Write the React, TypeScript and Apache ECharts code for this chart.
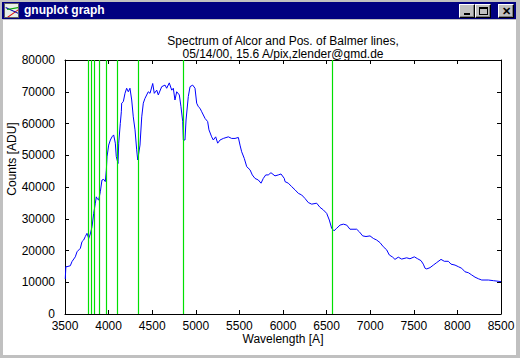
import React, { useEffect, useRef } from "react";
import * as echarts from "echarts";

const wavelengths = [
  3503, 3510, 3523, 3561, 3580, 3618, 3638, 3676, 3695, 3714, 3733, 3752, 3772, 3790, 3810, 3829,
  3848, 3859, 3867, 3886, 3905, 3924, 3944, 3962, 3974, 3982, 4001, 4020, 4039, 4058, 4077, 4088,
  4108, 4116, 4134, 4146, 4150, 4169, 4188, 4207, 4226, 4245, 4265, 4283, 4303, 4322, 4334, 4360,
  4380, 4398, 4417, 4455, 4475, 4506, 4524, 4552, 4570, 4609, 4647, 4666, 4696, 4724, 4742, 4761,
  4781, 4811, 4830, 4850, 4857, 4876, 4888, 4914, 4934, 4964, 4991, 5010, 5029, 5048, 5068, 5106,
  5136, 5151, 5182, 5201, 5228, 5251, 5278, 5316, 5373, 5411, 5450, 5488, 5507, 5526, 5556, 5584,
  5622, 5648, 5679, 5717, 5748, 5774, 5802, 5831, 5862, 5908, 5946, 5977, 6015, 6023, 6061, 6100,
  6138, 6176, 6214, 6252, 6290, 6329, 6386, 6424, 6462, 6501, 6531, 6558, 6585, 6616, 6654, 6692,
  6731, 6768, 6845, 6875, 6914, 6952, 6998, 7036, 7074, 7112, 7150, 7189, 7219, 7258, 7284, 7322,
  7361, 7418, 7456, 7506, 7544, 7583, 7609, 7629, 7648, 7686, 7724, 7763, 7812, 7850, 7896, 7927,
  7973, 8011, 8049, 8087, 8126, 8164, 8202, 8241, 8279, 8355, 8413, 8500
];

const counts = [
  11000, 14900, 14900, 15200, 16500, 18000, 19600, 20700, 22800, 23300, 24400, 25400, 23800, 25200, 27500, 31700,
  34900, 36900, 36400, 35900, 38500, 42200, 42400, 41700, 45300, 49500, 53200, 54800, 55800, 56400, 53800, 49600,
  47400, 53800, 60000, 63700, 66400, 66900, 69500, 71100, 70000, 71100, 67400, 62100, 58000, 51700, 48500, 53200,
  62100, 66400, 67900, 70000, 69500, 72600, 69500, 70500, 69000, 71600, 72100, 71100, 72800, 70500, 71100, 67400,
  70000, 69000, 65300, 60600, 54800, 54800, 61100, 68500, 71600, 72100, 71100, 66400, 65300, 64800, 63700, 61600,
  60600, 58000, 55800, 54800, 55800, 53800, 54800, 55300, 55800, 55300, 55300, 55600, 53200, 51100, 49000, 46400,
  45400, 43800, 42700, 42200, 41200, 42700, 43800, 43800, 44500, 43500, 43800, 44100, 42700, 41700, 41200, 40100,
  39100, 38000, 37500, 36400, 35100, 34600, 34900, 33600, 32800, 31700, 29600, 27000, 26200, 27000, 28000, 28300,
  28000, 26700, 26700, 25900, 24600, 24400, 24600, 23800, 23300, 22500, 21200, 20200, 18600, 17900, 17200, 17900,
  17300, 17700, 17400, 18000, 17400, 16800, 15700, 14400, 14200, 14600, 15400, 16200, 17200, 16600, 16600, 15700,
  15400, 14900, 14400, 13300, 13000, 12300, 11600, 11100, 10700, 10700, 10500, 10200
];

const balmerLines = [3770, 3797, 3835, 3889, 3970, 4102, 4340, 4861, 6563];

const xTicks = { min: 3500, max: 8500, interval: 500 };
const yTicks = { min: 0, max: 80000, interval: 10000 };

const titleLines = [
  "Spectrum of Alcor and Pos. of Balmer lines,",
  "05/14/00, 15.6 A/pix,zlender@gmd.de",
];
const xLabel = "Wavelength [A]";
const yLabel = "Counts [ADU]";
const windowTitle = "gnuplot graph";

const FONT = "'Liberation Sans', Arial, sans-serif";

function Btn({ left, children }: { left: number; children: React.ReactNode }) {
  return (
    <div
      style={{
        position: "absolute",
        left,
        top: 2,
        width: 16,
        height: 14,
        boxSizing: "border-box",
        background: "#c0c0c0",
        borderTop: "1px solid #ffffff",
        borderLeft: "1px solid #ffffff",
        borderRight: "1px solid #000000",
        borderBottom: "1px solid #000000",
        boxShadow: "inset -1px -1px 0 #808080",
        display: "flex",
        alignItems: "center",
        justifyContent: "center",
        fontFamily: FONT,
        fontSize: 11,
        fontWeight: "bold",
        color: "#000",
        lineHeight: "12px",
      }}
    >
      {children}
    </div>
  );
}

export default function App() {
  const ref = useRef<HTMLDivElement>(null);

  useEffect(() => {
    if (!ref.current) return;
    const chart = echarts.init(ref.current, undefined, { renderer: "svg", width: 520, height: 358 });
    const data = wavelengths.map((w, i) => [w, counts[i]]);
    const axisCommon = {
      axisLine: { show: true, onZero: false, lineStyle: { color: "#000", width: 1 } },
      axisTick: { show: true, inside: true, length: 4, lineStyle: { color: "#000" } },
      splitLine: { show: false },
    };
    const plain = (v: number) => String(v);
    chart.setOption({
      animation: false,
      backgroundColor: "transparent",
      grid: { left: 65, right: 19, top: 60, bottom: 44, containLabel: false },
      xAxis: [
        {
          type: "value",
          position: "bottom",
          ...xTicks,
          ...axisCommon,
          axisLabel: { color: "#000", fontFamily: FONT, fontSize: 12, margin: 6, formatter: plain },
        },
        {
          type: "value",
          position: "top",
          ...xTicks,
          ...axisCommon,
          axisLabel: { show: false },
        },
      ],
      yAxis: [
        {
          type: "value",
          position: "left",
          ...yTicks,
          ...axisCommon,
          axisLabel: { color: "#000", fontFamily: FONT, fontSize: 12, margin: 10, formatter: plain },
        },
        {
          type: "value",
          position: "right",
          ...yTicks,
          ...axisCommon,
          axisLabel: { show: false },
        },
      ],
      series: [
        {
          type: "line",
          xAxisIndex: 0,
          yAxisIndex: 0,
          data,
          showSymbol: false,
          symbol: "none",
          lineStyle: { color: "#0000ff", width: 1 },
          silent: true,
          markLine: {
            silent: true,
            symbol: ["none", "none"],
            label: { show: false },
            lineStyle: { color: "#00e000", width: 1.2, type: "solid" },
            emphasis: { disabled: true },
            data: balmerLines.map((w) => ({ xAxis: w })),
          },
        },
      ],
      graphic: [
        {
          type: "text",
          x: 283,
          y: 41,
          style: {
            text: titleLines[0],
            textAlign: "center",
            textVerticalAlign: "middle",
            fill: "#000",
            font: `12px ${FONT}`,
          },
        },
        {
          type: "text",
          x: 283,
          y: 54,
          style: {
            text: titleLines[1],
            textAlign: "center",
            textVerticalAlign: "middle",
            fill: "#000",
            font: `12px ${FONT}`,
          },
        },
        {
          type: "text",
          x: 283,
          y: 339,
          style: {
            text: xLabel,
            textAlign: "center",
            textVerticalAlign: "middle",
            fill: "#000",
            font: `12px ${FONT}`,
          },
        },
        {
          type: "text",
          x: 12,
          y: 159,
          rotation: Math.PI / 2,
          style: {
            text: yLabel,
            textAlign: "center",
            textVerticalAlign: "middle",
            fill: "#000",
            font: `12px ${FONT}`,
          },
        },
      ],
    });
    return () => chart.dispose();
  }, []);

  return (
    <div
      style={{
        position: "fixed",
        left: 0,
        top: 0,
        width: 520,
        height: 358,
        background: "#c0c0c0",
        overflow: "hidden",
      }}
    >
      <div
        style={{
          position: "absolute",
          left: 2,
          top: 2,
          width: 514,
          height: 17,
          background: "#000080",
        }}
      >
        <div
          style={{
            position: "absolute",
            left: 2,
            top: 1,
            width: 15,
            height: 15,
            background: "#e8f0e8",
            border: "1px solid #606060",
            boxSizing: "border-box",
            overflow: "hidden",
          }}
        >
          <div style={{ position: "absolute", left: 1, top: 9, width: 14, height: 1, background: "#d00", transform: "rotate(-35deg)" }} />
          <div style={{ position: "absolute", left: 0, top: 6, width: 14, height: 1, background: "#00a", transform: "rotate(25deg)" }} />
          <div style={{ position: "absolute", left: 2, top: 4, width: 12, height: 1, background: "#0a0", transform: "rotate(-10deg)" }} />
        </div>
        <div
          style={{
            position: "absolute",
            left: 22,
            top: 0,
            height: 17,
            lineHeight: "17px",
            color: "#fff",
            fontFamily: FONT,
            fontWeight: "bold",
            fontSize: 12,
          }}
        >
          {windowTitle}
        </div>
        <Btn left={457}>
          <div style={{ width: 6, height: 2, background: "#000", marginTop: 6 }} />
        </Btn>
        <Btn left={473}>
          <div style={{ width: 9, height: 8, boxSizing: "border-box", border: "1px solid #000", borderTop: "2px solid #000" }} />
        </Btn>
        <Btn left={496}>
          <span style={{ fontSize: 11, lineHeight: "11px" }}>✕</span>
        </Btn>
      </div>
      <div
        style={{
          position: "absolute",
          left: 3,
          top: 20,
          width: 513,
          height: 335,
          background: "#ffffff",
        }}
      />
      <div ref={ref} style={{ position: "absolute", left: 0, top: 0, width: 520, height: 358 }} />
    </div>
  );
}
